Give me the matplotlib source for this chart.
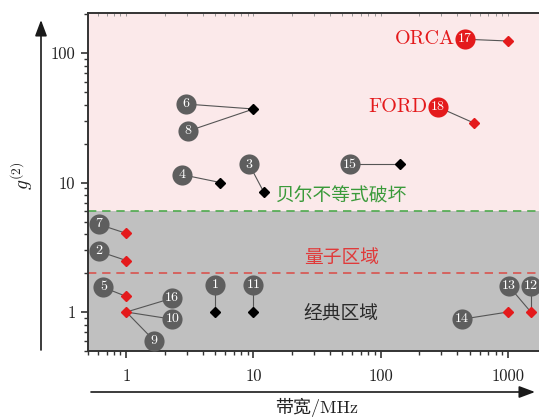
import matplotlib.pyplot as plt
from matplotlib.ticker import FixedLocator, FixedFormatter, LogLocator, NullFormatter

plt.rcParams["font.family"] = ["cmr10", "Noto Sans CJK SC"]
plt.rcParams["mathtext.fontset"] = "cm"
plt.rcParams["axes.formatter.use_mathtext"] = True

# measured sources: bandwidth (MHz) and g(2)
black_bw = [5, 10, 10, 5.5, 12, 142]
black_g2 = [1, 1, 37, 10, 8.5, 13.8]
red_bw = [1, 1, 1, 1, 1000, 1515, 1000, 542]
red_g2 = [4.05, 2.5, 1.32, 1, 1, 1, 124, 28.8]

# numbered references: id, point it refers to, bubble placement
ref_ids = ["1", "11", "6", "8", "4", "3", "15", "7", "2", "5",
           "16", "10", "9", "14", "13", "12"]
ref_bw = [5, 10, 10, 10, 5.5, 12, 142, 1, 1, 1, 1, 1, 1, 1000, 1515, 1515]
ref_g2 = [1, 1, 37, 37, 10, 8.5, 13.8, 4.05, 2.5, 1.32, 1, 1, 1, 1, 1, 1]
ref_lx = [5, 10, 2.96, 3.07, 2.75, 9.25, 57.5, 0.61, 0.61, 0.66,
          2.3, 2.3, 1.66, 436, 1020, 1515]
ref_ly = [1.63, 1.63, 40.4, 25, 11.5, 13.8, 13.8, 4.75, 2.94, 1.55,
          1.28, 0.88, 0.60, 0.88, 1.58, 1.6]

# named schemes (ORCA, FORD)
named = ["ORCA", "FORD"]
named_ids = ["17", "18"]
named_bw = [1000, 542]
named_g2 = [124, 28.8]
named_lx = [460, 282]
named_ly = [128, 38.3]

bell_limit = 6
quantum_limit = 2

x_ticks = [1, 10, 100, 1000]
y_ticks = [1, 10, 100]

RED = "#e41a1c"
BUBBLE = "#5e5e5e"

fig = plt.figure(figsize=(5.39, 4.18), dpi=100)
ax = fig.add_axes([88 / 539, 67 / 418, 451 / 539, 338 / 418])
ax.set_xscale("log")
ax.set_yscale("log")
ax.set_xlim(0.5, 1756)
ax.set_ylim(0.5, 204)

ax.axhspan(bell_limit, 204, color="#fbe9ea", zorder=0, lw=0)
ax.axhspan(0.5, bell_limit, color="#c0c0c0", zorder=0, lw=0)
ax.axhline(bell_limit, color="#4daa4d", ls=(0, (5, 3.5)), lw=1.2, zorder=1)
ax.axhline(quantum_limit, color="#d9534f", ls=(0, (5, 3.5)), lw=1.2, zorder=1)

ax.text(49, 7.8, "贝尔不等式破坏", color="#3a9a3a", fontsize=13.5,
        ha="center", va="center")
ax.text(49, 2.62, "量子区域", color="#e03a3a", fontsize=13.5,
        ha="center", va="center")
ax.text(49, 0.98, "经典区域", color="#2a2a2a", fontsize=13.5,
        ha="center", va="center")

# connectors and numbered bubbles
for rid, px, py, lx, ly in zip(ref_ids, ref_bw, ref_g2, ref_lx, ref_ly):
    ax.plot([px, lx], [py, ly], color="#555555", lw=0.8, zorder=2)
    ax.plot(lx, ly, "o", ms=14.5, color=BUBBLE, mec="none", zorder=3)
    ax.text(lx, ly, rid, color="white", fontsize=10,
            ha="center", va="center", zorder=5)

for name, rid, px, py, lx, ly in zip(named, named_ids, named_bw, named_g2,
                                     named_lx, named_ly):
    ax.plot([px, lx], [py, ly], color="#555555", lw=0.8, zorder=2)
    ax.plot(lx, ly, "o", ms=14.5, color=RED, mec="none", zorder=3)
    ax.text(lx, ly, rid, color="white", fontsize=10,
            ha="center", va="center", zorder=5)
    ax.annotate(name, xy=(lx, ly), xytext=(-7.5, 0), textcoords="offset points",
                color=RED, fontsize=14.5, ha="right", va="center", zorder=5)

ax.plot(black_bw, black_g2, "D", ms=5.5, color="black", ls="none", zorder=4)
ax.plot(red_bw, red_g2, "D", ms=5.5, color=RED, ls="none", zorder=4)

# axes styling
for side in ["left", "bottom", "top"]:
    ax.spines[side].set_color("#333333")
    ax.spines[side].set_linewidth(1.4)
ax.spines["right"].set_visible(False)

ax.xaxis.set_major_locator(FixedLocator(x_ticks))
ax.xaxis.set_major_formatter(FixedFormatter([str(v) for v in x_ticks]))
ax.yaxis.set_major_locator(FixedLocator(y_ticks))
ax.yaxis.set_major_formatter(FixedFormatter([str(v) for v in y_ticks]))
ax.xaxis.set_minor_locator(LogLocator(base=10, subs=range(2, 10), numticks=20))
ax.yaxis.set_minor_locator(LogLocator(base=10, subs=range(2, 10), numticks=20))
ax.xaxis.set_minor_formatter(NullFormatter())
ax.yaxis.set_minor_formatter(NullFormatter())

ax.tick_params(which="both", direction="out", color="#333333", labelsize=12,
               labelcolor="#222222", right=False, top=False)
ax.tick_params(which="major", length=5, width=1.2)
ax.tick_params(which="minor", length=3, width=1.0)
ax.tick_params(axis="x", which="major", pad=8)
ax.tick_params(axis="y", which="major", pad=4)

# faint inward ticks along the top edge
top = ax.secondary_xaxis("top")
top.xaxis.set_major_locator(FixedLocator(x_ticks))
top.xaxis.set_minor_locator(LogLocator(base=10, subs=range(2, 10), numticks=20))
top.xaxis.set_major_formatter(NullFormatter())
top.xaxis.set_minor_formatter(NullFormatter())
top.tick_params(which="both", direction="in", length=2, width=0.6, color="#888888")
top.spines["top"].set_visible(False)

# axis arrows drawn on the figure
arrow = dict(arrowstyle="-|>,head_length=0.8,head_width=0.3", color="#1a1a1a",
             lw=1.2, mutation_scale=12, shrinkA=0, shrinkB=0)
ax.annotate("", xy=(41 / 539, 398 / 418), xytext=(41 / 539, 68 / 418),
            xycoords="figure fraction", textcoords="figure fraction",
            arrowprops=arrow, annotation_clip=False)
ax.annotate("", xy=(535 / 539, 26 / 418), xytext=(91 / 539, 26 / 418),
            xycoords="figure fraction", textcoords="figure fraction",
            arrowprops=arrow, annotation_clip=False)

fig.text(317 / 539, 11 / 418, "带宽/MHz", fontsize=13, ha="center", va="center",
         color="#222222")
fig.text(22 / 539, 242 / 418, r"$g^{(2)}$", fontsize=14, ha="center",
         va="center", rotation=90, color="#222222")

fig.savefig("out.png", dpi=100)
